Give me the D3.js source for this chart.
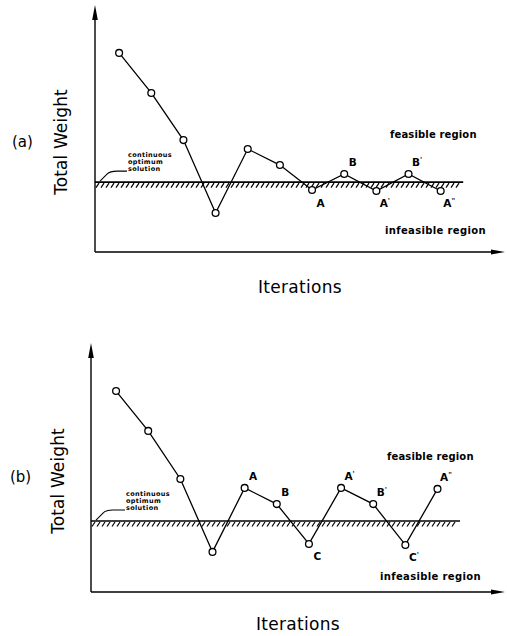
<!DOCTYPE html>
<html><head><meta charset="utf-8">
<script src="https://cdn.jsdelivr.net/npm/d3@7"></script>
<style>body{margin:0;background:#fff}svg{display:block}</style>
</head><body>
<svg id="c" width="507" height="636"></svg>
<script>
// ---- data ----
const iterations = [1,2,3,4,5,6,7,8,9,10,11];
const weightA = [80.6,64.4,45.3,15.8,41.7,35.2,25.1,31.6,24.7,31.6,24.7];
const weightB = [80.7,64.7,45.4,16.1,41.8,35.3,19.3,41.8,35.3,18.9,41.4];
const optimumA = 28.3;
const optimumB = 28.5;
const optimumSpan = [0, 11.7];
const labelsA = [
  {it:7, text:"A", mark:"", pos:"below"},
  {it:8, text:"B", mark:"", pos:"above"},
  {it:9, text:"A", mark:"'", pos:"below"},
  {it:10, text:"B", mark:"'", pos:"above"},
  {it:11, text:"A", mark:"\"", pos:"below"}
];
const labelsB = [
  {it:5, text:"A", mark:"", pos:"above"},
  {it:6, text:"B", mark:"", pos:"above"},
  {it:7, text:"C", mark:"", pos:"below"},
  {it:8, text:"A", mark:"'", pos:"above"},
  {it:9, text:"B", mark:"'", pos:"above"},
  {it:10, text:"C", mark:"'", pos:"below"},
  {it:11, text:"A", mark:"\"", pos:"above"}
];
const regionLabels = ["feasible region", "infeasible region"];
const optimumLabel = ["continuous", "optimum", "solution"];
const axisTitles = {x:"Iterations", y:"Total Weight"};

const svg = d3.select("#c");

function panel(cfg) {
  const g = svg.append("g");
  const x = d3.scaleLinear().domain(cfg.xDomain).range([cfg.left, cfg.right]);
  const y = d3.scaleLinear().domain([0, 100]).range([cfg.bottom, cfg.top]);

  // axes with arrows
  g.append("line").attr("x1", cfg.left).attr("x2", cfg.left)
    .attr("y1", cfg.bottom).attr("y2", cfg.top + 6)
    .attr("stroke", "#000").attr("stroke-width", 1.4);
  g.append("path").attr("d", `M${cfg.left},${cfg.top} L${cfg.left-2.8},${cfg.top+15} L${cfg.left+2.8},${cfg.top+15} Z`)
    .attr("fill", "#000");
  g.append("line").attr("x1", cfg.left).attr("x2", cfg.right - 6)
    .attr("y1", cfg.bottom).attr("y2", cfg.bottom)
    .attr("stroke", "#000").attr("stroke-width", 1.4);
  g.append("path").attr("d", `M${cfg.right},${cfg.bottom} L${cfg.right-14},${cfg.bottom-2.6} L${cfg.right-14},${cfg.bottom+2.6} Z`)
    .attr("fill", "#000");

  // optimum line with hatching
  const oy = y(cfg.optimum);
  const ox0 = x(optimumSpan[0]) < cfg.left ? cfg.left : x(optimumSpan[0]);
  const ox1 = x(optimumSpan[1]);
  g.append("line").attr("x1", ox0).attr("x2", ox1).attr("y1", oy).attr("y2", oy)
    .attr("stroke", "#000").attr("stroke-width", 1.6);
  const hatches = d3.range(ox0 + 4, ox1, 5);
  g.selectAll("line.h").data(hatches).join("line").attr("class","h")
    .attr("x1", d => d).attr("y1", oy + 1)
    .attr("x2", d => d - 3).attr("y2", oy + 5.5)
    .attr("stroke", "#000").attr("stroke-width", 1.2);

  // leader + optimum label
  const lx = cfg.left, tx = cfg.optTextX;
  g.append("path")
    .attr("d", `M${lx+5},${oy-1} L${lx+12},${oy-8} Q${lx+15},${oy-11} ${lx+22},${oy-11} L${tx-1},${oy-11}`)
    .attr("fill", "none").attr("stroke", "#000").attr("stroke-width", 1.1);
  g.selectAll("text.opt").data(optimumLabel).join("text").attr("class","opt")
    .attr("x", tx).attr("y", (d, i) => oy - 25.5 + i * 7.4)
    .attr("font-family", "DejaVu Sans").attr("font-weight", "bold")
    .attr("font-size", 6.5).attr("letter-spacing", 0.35).text(d => d);

  // series line
  const pts = iterations.map((it, i) => [x(it), y(cfg.values[i])]);
  g.append("path").attr("d", d3.line()(pts))
    .attr("fill", "none").attr("stroke", "#000").attr("stroke-width", 1.3);
  g.selectAll("circle").data(pts).join("circle")
    .attr("cx", d => d[0]).attr("cy", d => d[1]).attr("r", 3.4)
    .attr("fill", "#fff").attr("stroke", "#000").attr("stroke-width", 1.3);

  // point labels
  const lab = g.selectAll("text.pl").data(cfg.labels).join("text").attr("class","pl")
    .attr("x", d => x(d.it) + 8.5)
    .attr("y", d => y(cfg.values[d.it - 1]) + (d.pos === "above" ? -8 : 16.5))
    .attr("text-anchor", "middle")
    .attr("font-family", "DejaVu Sans").attr("font-weight", "bold").attr("font-size", 10.5);
  lab.append("tspan").text(d => d.text);
  lab.append("tspan").attr("dx", 0).attr("dy", -4).attr("font-size", 7).text(d => d.mark);

  // region labels
  g.append("text").attr("x", cfg.feasX).attr("y", cfg.feasY)
    .attr("font-family", "DejaVu Sans").attr("font-weight", "bold").attr("font-size", 10)
    .attr("letter-spacing", 0.15).text(regionLabels[0]);
  g.append("text").attr("x", cfg.infeasX).attr("y", cfg.infeasY)
    .attr("font-family", "DejaVu Sans").attr("font-weight", "bold").attr("font-size", 10)
    .attr("letter-spacing", 0.35).text(regionLabels[1]);

  // axis titles
  g.append("text").attr("x", cfg.xTitleX).attr("y", cfg.xTitleY).attr("text-anchor", "middle")
    .attr("font-family", "DejaVu Sans").attr("font-size", 17).attr("letter-spacing", 0.3)
    .text(axisTitles.x);
  g.append("text").attr("transform", `translate(${cfg.yTitleX},${cfg.yTitleY}) rotate(-90)`)
    .attr("text-anchor", "middle")
    .attr("font-family", "DejaVu Sans").attr("font-size", 17).attr("letter-spacing", 0.1)
    .text(axisTitles.y);
  g.append("text").attr("x", cfg.tagX).attr("y", cfg.tagY)
    .attr("font-family", "DejaVu Sans").attr("font-size", 15).text(cfg.tag);
}

panel({
  tag: "(a)", values: weightA, optimum: optimumA, labels: labelsA,
  xDomain: [0.25, 13], left: 95, right: 505, top: 5, bottom: 252,
  optTextX: 128, feasX: 390, feasY: 138, infeasX: 385, infeasY: 234,
  xTitleX: 300, xTitleY: 293, yTitleX: 67, yTitleY: 142, tagX: 12, tagY: 147
});
panel({
  tag: "(b)", values: weightB, optimum: optimumB, labels: labelsB,
  xDomain: [0.22, 13.1], left: 91, right: 505, top: 343, bottom: 592,
  optTextX: 126, feasX: 387, feasY: 460, infeasX: 380, infeasY: 580,
  xTitleX: 298, xTitleY: 630, yTitleX: 64, yTitleY: 481, tagX: 10, tagY: 482
});
</script>
</body></html>
